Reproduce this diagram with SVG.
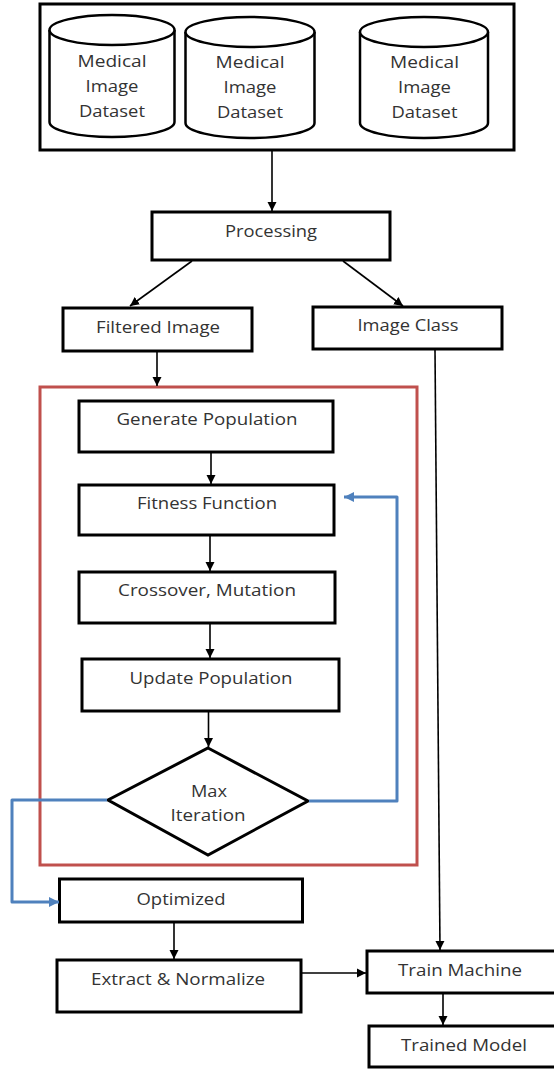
<svg xmlns="http://www.w3.org/2000/svg" width="554" height="1069" viewBox="0 0 554 1069">
<style>
.box{fill:#fff;stroke:#000;stroke-width:3}
.cyl{fill:#fff;stroke:#000;stroke-width:2.5}
.red{fill:none;stroke:#c0504d;stroke-width:3}
.t{font-family:"Open Sans","Liberation Sans",sans-serif;font-size:17px;fill:#333;text-anchor:middle}
.c{fill:none;stroke:#000;stroke-width:1.6}
.b{fill:none;stroke:#4f81bd;stroke-width:3;stroke-linejoin:round}
</style>
<defs>
<marker id="ah" markerUnits="userSpaceOnUse" markerWidth="10" markerHeight="10" refX="9" refY="5" orient="auto">
<path d="M0,0.5 L9,5 L0,9.5 Z" fill="#000"/>
</marker>
<marker id="bh" markerUnits="userSpaceOnUse" markerWidth="12" markerHeight="12" refX="10" refY="6" orient="auto">
<path d="M0,1 L10,6 L0,11 Z" fill="#4f81bd"/>
</marker>
</defs>
<rect class="red" x="40" y="387" width="377" height="478"/>
<g id="datasets">
<rect class="box" x="40" y="4" width="474" height="146"/>
</g>
<g id="cyl1">
<path class="cyl" d="M49.5,30 V122 A62.5,15 0 0 0 174.5,122 V30"/>
<ellipse class="cyl" cx="112" cy="30" rx="62.5" ry="15"/>
<text class="t" x="112" y="67" textLength="69" lengthAdjust="spacingAndGlyphs">Medical</text>
<text class="t" x="112" y="92" textLength="53" lengthAdjust="spacingAndGlyphs">Image</text>
<text class="t" x="112" y="117" textLength="66" lengthAdjust="spacingAndGlyphs">Dataset</text>
</g>
<g id="cyl2">
<path class="cyl" d="M185.5,32 V123 A64.5,15 0 0 0 314.5,123 V32"/>
<ellipse class="cyl" cx="250" cy="32" rx="64.5" ry="15"/>
<text class="t" x="250" y="68" textLength="69" lengthAdjust="spacingAndGlyphs">Medical</text>
<text class="t" x="250" y="93" textLength="53" lengthAdjust="spacingAndGlyphs">Image</text>
<text class="t" x="250" y="118" textLength="66" lengthAdjust="spacingAndGlyphs">Dataset</text>
</g>
<g id="cyl3">
<path class="cyl" d="M360,32 V123 A64,15 0 0 0 488,123 V32"/>
<ellipse class="cyl" cx="424" cy="32" rx="64" ry="15"/>
<text class="t" x="424.5" y="68" textLength="69" lengthAdjust="spacingAndGlyphs">Medical</text>
<text class="t" x="424.5" y="93" textLength="53" lengthAdjust="spacingAndGlyphs">Image</text>
<text class="t" x="424.5" y="118" textLength="66" lengthAdjust="spacingAndGlyphs">Dataset</text>
</g>
<g id="processing">
<rect class="box" x="152" y="212" width="238" height="48"/>
<text class="t" x="271" y="237" textLength="92" lengthAdjust="spacingAndGlyphs">Processing</text>
</g>
<g id="filtered">
<rect class="box" x="63" y="308" width="189" height="43"/>
<text class="t" x="158" y="332.5" textLength="124" lengthAdjust="spacingAndGlyphs">Filtered Image</text>
</g>
<g id="imageclass">
<rect class="box" x="313" y="307" width="189" height="42"/>
<text class="t" x="408" y="331" textLength="101" lengthAdjust="spacingAndGlyphs">Image Class</text>
</g>
<g id="generate">
<rect class="box" x="79" y="401" width="254" height="51"/>
<text class="t" x="207" y="425" textLength="181" lengthAdjust="spacingAndGlyphs">Generate Population</text>
</g>
<g id="fitness">
<rect class="box" x="79" y="485" width="255" height="50"/>
<text class="t" x="207" y="509" textLength="140" lengthAdjust="spacingAndGlyphs">Fitness Function</text>
</g>
<g id="crossover">
<rect class="box" x="79" y="572" width="256" height="51"/>
<text class="t" x="207" y="596" textLength="178" lengthAdjust="spacingAndGlyphs">Crossover, Mutation</text>
</g>
<g id="update">
<rect class="box" x="82" y="659" width="257" height="52"/>
<text class="t" x="211" y="684" textLength="163" lengthAdjust="spacingAndGlyphs">Update Population</text>
</g>
<g id="maxiter">
<polygon class="box" points="208,748 308,801 208,855 108,800"/>
<text class="t" x="209" y="797" textLength="36" lengthAdjust="spacingAndGlyphs">Max</text>
<text class="t" x="208" y="821" textLength="75" lengthAdjust="spacingAndGlyphs">Iteration</text>
</g>
<g id="optimized">
<rect class="box" x="59.5" y="879" width="243" height="43"/>
<text class="t" x="181" y="904.5" textLength="89" lengthAdjust="spacingAndGlyphs">Optimized</text>
</g>
<g id="extract">
<rect class="box" x="57" y="960" width="244" height="52"/>
<text class="t" x="178" y="984.5" textLength="174" lengthAdjust="spacingAndGlyphs">Extract &amp; Normalize</text>
</g>
<g id="train">
<rect class="box" x="367" y="951" width="190" height="42"/>
<text class="t" x="460" y="976" textLength="124" lengthAdjust="spacingAndGlyphs">Train Machine</text>
</g>
<g id="trained">
<rect class="box" x="369" y="1026" width="190" height="41"/>
<text class="t" x="464" y="1050.5" textLength="126" lengthAdjust="spacingAndGlyphs">Trained Model</text>
</g>
<g id="connectors">
<line class="c" x1="272" y1="151" x2="272" y2="211" marker-end="url(#ah)"/>
<line class="c" x1="192" y1="261" x2="130" y2="306" marker-end="url(#ah)"/>
<line class="c" x1="343" y1="261" x2="403" y2="306" marker-end="url(#ah)"/>
<line class="c" x1="157" y1="352" x2="157" y2="386" marker-end="url(#ah)"/>
<line class="c" x1="211" y1="453" x2="211" y2="484" marker-end="url(#ah)"/>
<line class="c" x1="210" y1="536" x2="210" y2="571" marker-end="url(#ah)"/>
<line class="c" x1="210" y1="624" x2="210" y2="658" marker-end="url(#ah)"/>
<line class="c" x1="208.5" y1="712" x2="208.5" y2="747" marker-end="url(#ah)"/>
<line class="c" x1="174" y1="923" x2="174" y2="959" marker-end="url(#ah)"/>
<line class="c" x1="302" y1="973" x2="366" y2="973" marker-end="url(#ah)"/>
<line class="c" x1="435" y1="350" x2="440" y2="950" marker-end="url(#ah)"/>
<line class="c" x1="443" y1="994" x2="443" y2="1025" marker-end="url(#ah)"/>
<polyline class="b" points="309,801 397,801 397,497 344,497" marker-end="url(#bh)"/>
<polyline class="b" points="107,800 12,800 12,902 59,902" marker-end="url(#bh)"/>
</g>
</svg>
